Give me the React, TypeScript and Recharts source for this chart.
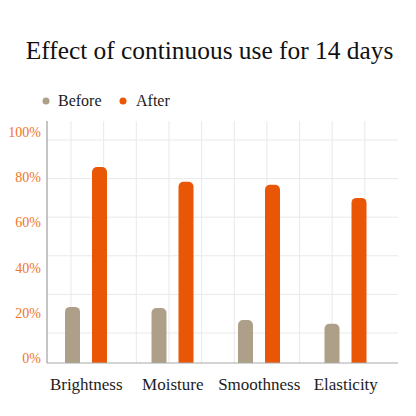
import { BarChart, Bar, XAxis, YAxis, CartesianGrid } from 'recharts';

const categories = ['Brightness', 'Moisture', 'Smoothness', 'Elasticity'];
const beforeValues = [24.8, 24.3, 19.0, 17.3];
const afterValues = [86.7, 80.1, 78.8, 73.0];
const yTicks = [0, 20, 40, 60, 80, 100];

const BEFORE = '#ae9f88';
const AFTER = '#e95706';
const SERIF = 'Liberation Serif';

const data = categories.map((name, i) => ({
  name,
  before: beforeValues[i],
  after: afterValues[i],
}));

function YTick({ x, y, payload }: { x?: number; y?: number; payload?: { value: number } }) {
  // labels sit with their baseline on the tick
  return (
    <text x={x} y={y} textAnchor="end" fontSize={14} fill="#ee7628" style={{ fontFamily: SERIF }}>
      {`${payload?.value}%`}
    </text>
  );
}

export default function App() {
  return (
    <div style={{ position: 'absolute', left: 0, top: 0, width: 416, height: 416, background: '#fff' }}>
      <svg width={416} height={120} style={{ position: 'absolute', left: 0, top: 0 }}>
        <text x={209.5} y={59} textAnchor="middle" fontSize={25.4} fill="#111" style={{ fontFamily: SERIF }}>
          Effect of continuous use for 14 days
        </text>
        <circle cx={46} cy={101} r={3.5} fill={BEFORE} />
        <text x={58} y={106} fontSize={16} fill="#1c1c1c" style={{ fontFamily: SERIF }}>
          Before
        </text>
        <circle cx={123} cy={101} r={3.5} fill={AFTER} />
        <text x={136} y={106} fontSize={16} fill="#1c1c1c" style={{ fontFamily: SERIF }}>
          After
        </text>
      </svg>
      <div style={{ position: 'absolute', left: 0, top: 0 }}>
        <BarChart
          width={416}
          height={416}
          data={data}
          margin={{ top: 121, right: 18, bottom: 0, left: 0 }}
          barSize={15}
          barGap={12}
        >
          <CartesianGrid
            stroke="#e9e9e9"
            horizontalCoordinatesGenerator={({ offset }: any) =>
              [0, 1, 2, 3, 4, 5].map((k) => offset.top + 19 + k * 38.6)
            }
            verticalCoordinatesGenerator={({ offset }: any) =>
              [0, 1, 2, 3, 4, 5, 6, 7, 8, 9].map((k) => offset.left + 24 + k * 32.65)
            }
          />
          <XAxis
            dataKey="name"
            height={53}
            tickLine={false}
            tickSize={0}
            tickMargin={15}
            axisLine={{ stroke: '#a8a8a8' }}
            padding={{ left: -4, right: 9 }}
            tick={{ fontSize: 17, fill: '#1c1c1c', fontFamily: SERIF }}
            interval={0}
          />
          <YAxis
            width={47}
            domain={[0, 107]}
            ticks={yTicks}
            tickLine={false}
            tickSize={0}
            tickMargin={6}
            axisLine={{ stroke: '#8c8c8c' }}
            tick={<YTick />}
          />
          <Bar dataKey="before" fill={BEFORE} radius={[5, 5, 0, 0]} isAnimationActive={false} />
          <Bar dataKey="after" fill={AFTER} radius={[5, 5, 0, 0]} isAnimationActive={false} />
        </BarChart>
      </div>
    </div>
  );
}
